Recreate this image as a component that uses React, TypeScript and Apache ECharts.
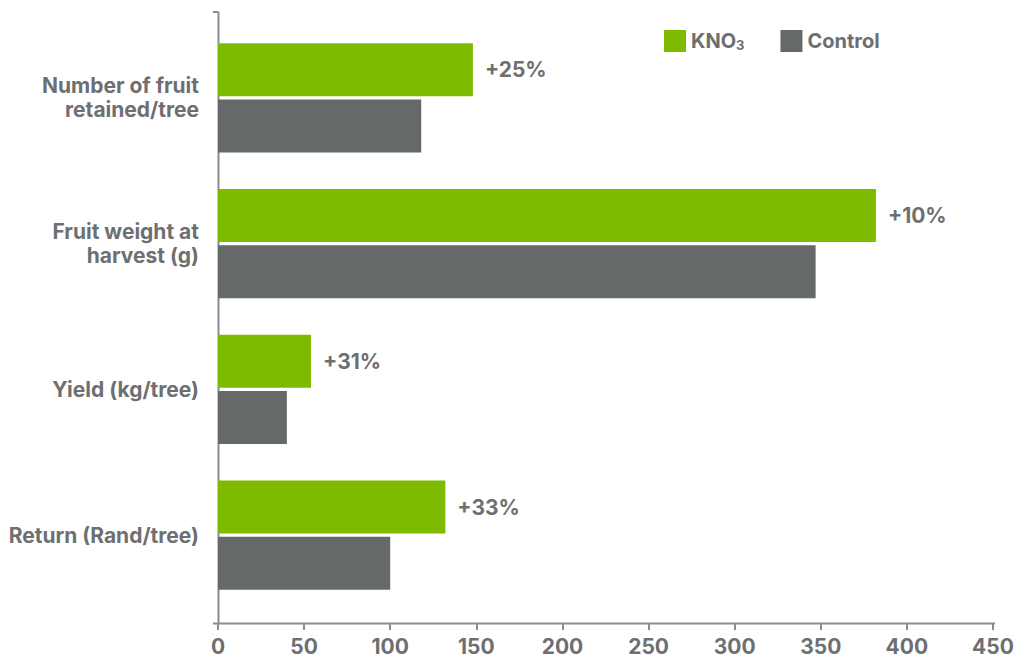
import React, { useEffect, useRef } from "react";
import * as echarts from "echarts";

const categories = ["Number of fruit\nretained/tree", "Fruit weight at\nharvest (g)", "Yield (kg/tree)", "Return (Rand/tree)"];
const kno3Values = [148, 382, 54, 132];
const controlValues = [118, 347, 40, 100];
const increaseLabels = ["+25%", "+10%", "+31%", "+33%"];
const xTicks = [0, 50, 100, 150, 200, 250, 300, 350, 400, 450];

const TEXT = "#6d6f71";
const GREEN = "#7dba00";
const GREY = "#666969";
const AXIS = "#8a8c8e";
const FONT = "Inter, 'Liberation Sans', Arial, sans-serif";
const FS = 21;

export default function App() {
  const ref = useRef<HTMLDivElement>(null);
  useEffect(() => {
    const chart = echarts.init(ref.current!, null, { renderer: "svg" });
    chart.setOption({
      animation: false,
      textStyle: { fontFamily: FONT },
      grid: { left: 218, right: 24, top: 25, bottom: 51, containLabel: false },
      legend: {
        left: 664,
        top: 30,
        padding: 0,
        itemWidth: 22,
        itemHeight: 22,
        itemGap: 36,
        icon: "rect",
        data: ["KNO3", "Control"],
        formatter: (n: string) => (n === "KNO3" ? "KNO{sub|3}" : n),
        textStyle: {
          color: TEXT,
          fontSize: 20,
          fontWeight: "bold",
          fontFamily: FONT,
          rich: {
            sub: { fontSize: 13, fontWeight: "bold", color: TEXT, fontFamily: FONT, verticalAlign: "bottom", padding: [8, 0, 0, 0] },
          },
        },
      },
      xAxis: {
        type: "value",
        min: 0,
        max: 450,
        interval: 50,
        offset: 15,
        axisLine: { show: false },
        axisTick: { show: true, length: 7, lineStyle: { color: AXIS, width: 2 } },
        splitLine: { show: false },
        axisLabel: {
          color: TEXT,
          fontSize: FS,
          fontWeight: "bold",
          fontFamily: FONT,
          margin: 13,
          formatter: (v: number) => (xTicks.includes(v) ? String(v) : ""),
        },
      },
      yAxis: {
        type: "category",
        inverse: true,
        data: categories,
        axisLine: { show: false },
        axisTick: { show: false },
        axisLabel: {
          color: TEXT,
          fontSize: FS,
          fontWeight: "bold",
          fontFamily: FONT,
          margin: 19,
          lineHeight: 24,
          align: "right",
        },
      },
      graphic: [
        { type: "line", shape: { x1: 218.5, y1: 12, x2: 218.5, y2: 624 }, style: { stroke: AXIS, lineWidth: 2 } },
        { type: "line", shape: { x1: 213, y1: 12, x2: 218.5, y2: 12 }, style: { stroke: AXIS, lineWidth: 2 } },
        { type: "line", shape: { x1: 213, y1: 623.5, x2: 995, y2: 623.5 }, style: { stroke: AXIS, lineWidth: 2 } },
      ],
      series: [
        {
          name: "KNO3",
          type: "bar",
          data: kno3Values,
          barGap: "6%",
          barCategoryGap: "25%",
          itemStyle: { color: GREEN },
          label: {
            show: true,
            position: "right",
            distance: 12,
            color: TEXT,
            fontSize: FS,
            fontWeight: "bold",
            fontFamily: FONT,
            formatter: (p: any) => increaseLabels[p.dataIndex],
          },
        },
        {
          name: "Control",
          type: "bar",
          data: controlValues,
          barGap: "6%",
          barCategoryGap: "25%",
          itemStyle: { color: GREY },
        },
      ],
    });
    return () => chart.dispose();
  }, []);
  return <div ref={ref} style={{ width: 1017, height: 659, position: "absolute", left: 0, top: 0, background: "#fff" }} />;
}
